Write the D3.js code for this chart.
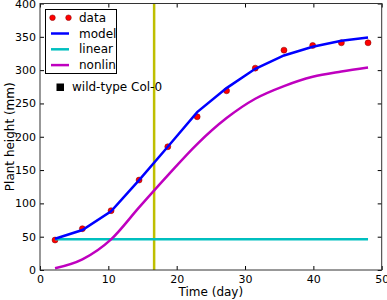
<!DOCTYPE html>
<html>
<head>
<meta charset="utf-8">
<script src="https://cdn.jsdelivr.net/npm/d3@7"></script>
<style>
  body { margin: 0; background: #fff; }
  svg { font-family: "DejaVu Sans", sans-serif; }
</style>
</head>
<body>
<div id="chart"></div>
<script>
// data
const days = [2.2, 6.2, 10.4, 14.5, 18.7, 23.0, 27.3, 31.5, 35.7, 39.9, 44.1, 48.0];
const measured = [45, 62, 89, 135, 185, 230, 269, 303, 330, 337, 341, 341];
const model = [47, 60, 88, 135, 185, 237, 273, 302, 322, 335, 344, 349];
const linear = [46, 46, 46, 46, 46, 46, 46, 46, 46, 46, 46, 46];
const nonlin = [2.5, 16, 46, 94, 142, 189, 228, 257, 276, 290, 298, 304];
const markerDay = 16.7;
const xTicks = [0, 10, 20, 30, 40, 50];
const yTicks = [0, 50, 100, 150, 200, 250, 300, 350, 400];

const W = 387, H = 300;
const margin = { top: 3.5, right: 5.3, bottom: 30, left: 40 };
const width = W - margin.left - margin.right;
const height = H - margin.top - margin.bottom;

const svg = d3.select("#chart").append("svg")
  .attr("width", W).attr("height", H);

const g = svg.append("g")
  .attr("transform", `translate(${margin.left},${margin.top})`);

const x = d3.scaleLinear().domain([0, 50]).range([0, width]);
const y = d3.scaleLinear().domain([0, 400]).range([height, 0]);

g.append("clipPath").attr("id", "clip")
  .append("rect").attr("width", width).attr("height", height);

const plot = g.append("g").attr("clip-path", "url(#clip)");

const line = (vals, curve = d3.curveLinear) => d3.line()
  .curve(curve)
  .x((d, i) => x(days[i]))
  .y((d) => y(d))(vals);

// vertical marker line
plot.append("line")
  .attr("x1", x(markerDay)).attr("x2", x(markerDay))
  .attr("y1", 0).attr("y2", height)
  .attr("stroke", "#bfbf00").attr("stroke-width", 2.5);

// data points
plot.append("g").selectAll("circle")
  .data(measured)
  .join("circle")
  .attr("cx", (d, i) => x(days[i]))
  .attr("cy", (d) => y(d))
  .attr("r", 3)
  .attr("fill", "#ff0000")
  .attr("stroke", "#7a0000")
  .attr("stroke-width", 0.5);

plot.append("path").attr("d", line(linear))
  .attr("fill", "none").attr("stroke", "#00bfbf").attr("stroke-width", 2.5);
plot.append("path").attr("d", line(nonlin, d3.curveMonotoneX))
  .attr("fill", "none").attr("stroke", "#bf00bf").attr("stroke-width", 2.5);
plot.append("path").attr("d", line(model))
  .attr("fill", "none").attr("stroke", "#0000ff").attr("stroke-width", 2.5);

// axes with inward ticks on all sides
const axisStyle = (sel) => {
  sel.select(".domain").remove();
  sel.selectAll(".tick line").attr("stroke", "#000");
  sel.selectAll(".tick text").attr("font-size", "11px").attr("fill", "#000")
    .attr("font-family", "DejaVu Sans");
};

g.append("g").attr("transform", `translate(0,${height})`)
  .call(d3.axisBottom(x).tickValues(xTicks).tickSizeInner(-4).tickSizeOuter(0).tickPadding(5))
  .call(axisStyle);
g.append("g")
  .call(d3.axisTop(x).tickValues(xTicks).tickSizeInner(-4).tickSizeOuter(0).tickFormat(""))
  .call(axisStyle);
g.append("g")
  .call(d3.axisLeft(y).tickValues(yTicks).tickSizeInner(-4).tickSizeOuter(0).tickPadding(4))
  .call(axisStyle);
g.append("g").attr("transform", `translate(${width},0)`)
  .call(d3.axisRight(y).tickValues(yTicks).tickSizeInner(-4).tickSizeOuter(0).tickFormat(""))
  .call(axisStyle);

g.append("rect")
  .attr("width", width).attr("height", height)
  .attr("fill", "none").attr("stroke", "#333").attr("stroke-width", 1);

// axis labels
svg.append("text")
  .attr("x", margin.left + width / 2).attr("y", 296)
  .attr("text-anchor", "middle").attr("font-size", "12px")
  .text("Time (day)");
svg.append("text")
  .attr("transform", `translate(10,${margin.top + height / 2}) rotate(-90)`)
  .attr("text-anchor", "middle").attr("dominant-baseline", "central")
  .attr("font-size", "12px")
  .text("Plant height (mm)");

// legend
const legend = svg.append("g");
legend.append("rect")
  .attr("x", 45.5).attr("y", 9.5).attr("width", 71).attr("height", 64)
  .attr("fill", "#fff").attr("stroke", "#000").attr("stroke-width", 1);

const entries = [
  { label: "data", type: "dot", color: "#ff0000" },
  { label: "model", type: "line", color: "#0000ff" },
  { label: "linear", type: "line", color: "#00bfbf" },
  { label: "nonlin", type: "line", color: "#bf00bf" },
];
entries.forEach((e, i) => {
  const cy = 17.7 + i * 15.8;
  if (e.type === "dot") {
    [52.5, 68.5].forEach((cx) => legend.append("circle")
      .attr("cx", cx).attr("cy", cy).attr("r", 2.8)
      .attr("fill", e.color).attr("stroke", "#7a0000").attr("stroke-width", 0.5));
  } else {
    legend.append("line")
      .attr("x1", 51).attr("x2", 69).attr("y1", cy).attr("y2", cy)
      .attr("stroke", e.color).attr("stroke-width", 2.5);
  }
  legend.append("text")
    .attr("x", 79).attr("y", cy).attr("dominant-baseline", "central")
    .attr("font-size", "12px").text(e.label);
});

legend.append("rect")
  .attr("x", 56.5).attr("y", 83.5).attr("width", 7.5).attr("height", 7.5)
  .attr("fill", "#000");
legend.append("text")
  .attr("x", 72).attr("y", 87.3).attr("dominant-baseline", "central")
  .attr("font-size", "12px").text("wild-type Col-0");
</script>
</body>
</html>
